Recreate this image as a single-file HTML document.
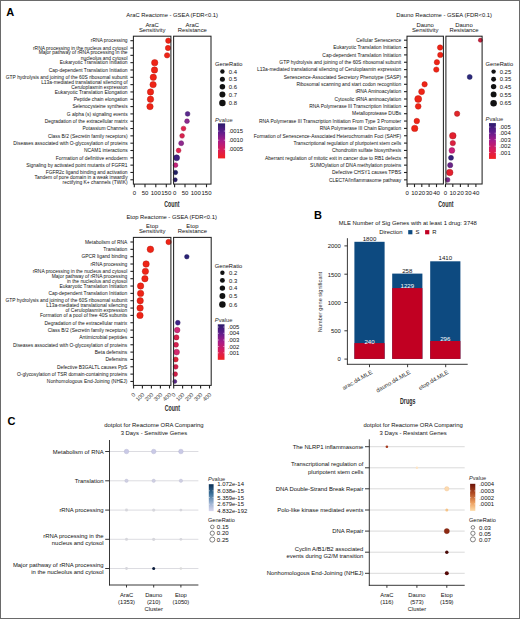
<!DOCTYPE html>
<html><head><meta charset="utf-8"><title>Figure</title>
<style>
html,body{margin:0;padding:0;background:#fff;}
body{width:520px;height:619px;overflow:hidden;font-family:"Liberation Sans",sans-serif;}
svg{display:block;}
text{font-family:"Liberation Sans",sans-serif;}
</style></head><body>
<svg width="520" height="619" viewBox="0 0 520 619" fill="#111" font-family="&quot;Liberation Sans&quot;, sans-serif">
<rect x="0.00" y="0.00" width="520.00" height="619.00" fill="#ffffff"/>
<text x="6.20" y="15.70" font-size="11" font-weight="bold" fill="#000">A</text>
<text x="313.90" y="219.30" font-size="11" font-weight="bold" fill="#000">B</text>
<text x="7.60" y="425.20" font-size="11" font-weight="bold" fill="#000">C</text>
<text x="172.20" y="17.31" font-size="5.85" text-anchor="middle">AraC Reactome - GSEA (FDR&lt;0.1)</text>
<text x="152.15" y="26.52" font-size="5.9" text-anchor="middle">AraC</text>
<text x="152.15" y="31.92" font-size="5.9" text-anchor="middle">Sensitivity</text>
<text x="192.30" y="26.52" font-size="5.9" text-anchor="middle">AraC</text>
<text x="192.30" y="31.92" font-size="5.9" text-anchor="middle">Resistance</text>
<text x="127.60" y="42.47" font-size="4.92" text-anchor="end">rRNA processing</text>
<line x1="130.40" y1="40.70" x2="133.40" y2="40.70" stroke="#222" stroke-width="1.1"/>
<text x="127.60" y="49.79" font-size="4.92" text-anchor="end">rRNA processing in the nucleus and cytosol</text>
<line x1="130.40" y1="48.02" x2="133.40" y2="48.02" stroke="#222" stroke-width="1.1"/>
<text x="127.60" y="54.46" font-size="4.92" text-anchor="end">Major pathway of rRNA processing in the</text>
<text x="127.60" y="59.76" font-size="4.92" text-anchor="end">nucleolus and cytosol</text>
<line x1="130.40" y1="55.34" x2="133.40" y2="55.34" stroke="#222" stroke-width="1.1"/>
<text x="127.60" y="64.43" font-size="4.92" text-anchor="end">Eukaryotic Translation Initiation</text>
<line x1="130.40" y1="62.66" x2="133.40" y2="62.66" stroke="#222" stroke-width="1.1"/>
<text x="127.60" y="71.75" font-size="4.92" text-anchor="end">Cap-dependent Translation Initiation</text>
<line x1="130.40" y1="69.98" x2="133.40" y2="69.98" stroke="#222" stroke-width="1.1"/>
<text x="127.60" y="79.07" font-size="4.92" text-anchor="end">GTP hydrolysis and joining of the 60S ribosomal subunit</text>
<line x1="130.40" y1="77.30" x2="133.40" y2="77.30" stroke="#222" stroke-width="1.1"/>
<text x="127.60" y="83.74" font-size="4.92" text-anchor="end">L13a-mediated translational silencing of</text>
<text x="127.60" y="89.04" font-size="4.92" text-anchor="end">Ceruloplasmin expression</text>
<line x1="130.40" y1="84.62" x2="133.40" y2="84.62" stroke="#222" stroke-width="1.1"/>
<text x="127.60" y="93.71" font-size="4.92" text-anchor="end">Eukaryotic Translation Elongation</text>
<line x1="130.40" y1="91.94" x2="133.40" y2="91.94" stroke="#222" stroke-width="1.1"/>
<text x="127.60" y="101.03" font-size="4.92" text-anchor="end">Peptide chain elongation</text>
<line x1="130.40" y1="99.26" x2="133.40" y2="99.26" stroke="#222" stroke-width="1.1"/>
<text x="127.60" y="108.35" font-size="4.92" text-anchor="end">Selenocysteine synthesis</text>
<line x1="130.40" y1="106.58" x2="133.40" y2="106.58" stroke="#222" stroke-width="1.1"/>
<text x="127.60" y="115.67" font-size="4.92" text-anchor="end">G alpha (s) signaling events</text>
<line x1="130.40" y1="113.90" x2="133.40" y2="113.90" stroke="#222" stroke-width="1.1"/>
<text x="127.60" y="122.99" font-size="4.92" text-anchor="end">Degradation of the extracellular matrix</text>
<line x1="130.40" y1="121.22" x2="133.40" y2="121.22" stroke="#222" stroke-width="1.1"/>
<text x="127.60" y="130.31" font-size="4.92" text-anchor="end">Potassium Channels</text>
<line x1="130.40" y1="128.54" x2="133.40" y2="128.54" stroke="#222" stroke-width="1.1"/>
<text x="127.60" y="137.63" font-size="4.92" text-anchor="end">Class B/2 (Secretin family receptors)</text>
<line x1="130.40" y1="135.86" x2="133.40" y2="135.86" stroke="#222" stroke-width="1.1"/>
<text x="127.60" y="144.95" font-size="4.92" text-anchor="end">Diseases associated with O-glycosylation of proteins</text>
<line x1="130.40" y1="143.18" x2="133.40" y2="143.18" stroke="#222" stroke-width="1.1"/>
<text x="127.60" y="152.27" font-size="4.92" text-anchor="end">NCAM1 interactions</text>
<line x1="130.40" y1="150.50" x2="133.40" y2="150.50" stroke="#222" stroke-width="1.1"/>
<text x="127.60" y="159.59" font-size="4.92" text-anchor="end">Formation of definitive endoderm</text>
<line x1="130.40" y1="157.82" x2="133.40" y2="157.82" stroke="#222" stroke-width="1.1"/>
<text x="127.60" y="166.91" font-size="4.92" text-anchor="end">Signaling by activated point mutants of FGFR1</text>
<line x1="130.40" y1="165.14" x2="133.40" y2="165.14" stroke="#222" stroke-width="1.1"/>
<text x="127.60" y="174.23" font-size="4.92" text-anchor="end">FGFR2c ligand binding and activation</text>
<line x1="130.40" y1="172.46" x2="133.40" y2="172.46" stroke="#222" stroke-width="1.1"/>
<text x="127.60" y="178.90" font-size="4.92" text-anchor="end">Tandem of pore domain in a weak inwardly</text>
<text x="127.60" y="184.20" font-size="4.92" text-anchor="end">rectifying K+ channels (TWIK)</text>
<line x1="130.40" y1="179.78" x2="133.40" y2="179.78" stroke="#222" stroke-width="1.1"/>
<g>
<circle cx="168.30" cy="40.70" r="2.70" fill="#ef2416" stroke="#b81810" stroke-width="0.45"/>
<circle cx="168.00" cy="48.02" r="2.70" fill="#ef2416" stroke="#b81810" stroke-width="0.45"/>
<circle cx="167.10" cy="55.34" r="2.70" fill="#ef2416" stroke="#b81810" stroke-width="0.45"/>
<circle cx="154.70" cy="62.66" r="3.20" fill="#ef2416" stroke="#b81810" stroke-width="0.45"/>
<circle cx="154.50" cy="69.98" r="3.20" fill="#ef2416" stroke="#b81810" stroke-width="0.45"/>
<circle cx="153.30" cy="77.30" r="3.20" fill="#ef2416" stroke="#b81810" stroke-width="0.45"/>
<circle cx="153.10" cy="84.62" r="3.20" fill="#ef2416" stroke="#b81810" stroke-width="0.45"/>
<circle cx="150.50" cy="91.94" r="3.20" fill="#ef2416" stroke="#b81810" stroke-width="0.45"/>
<circle cx="150.50" cy="99.26" r="3.20" fill="#ef2416" stroke="#b81810" stroke-width="0.45"/>
<circle cx="150.00" cy="106.58" r="3.20" fill="#ef2416" stroke="#b81810" stroke-width="0.45"/>
<circle cx="187.60" cy="113.90" r="2.40" fill="#5b2a8e" stroke="#411e66" stroke-width="0.45"/>
<circle cx="187.00" cy="121.22" r="2.40" fill="#8c2a8e" stroke="#641e66" stroke-width="0.45"/>
<circle cx="183.50" cy="128.54" r="2.40" fill="#e0244e" stroke="#a11938" stroke-width="0.45"/>
<circle cx="182.10" cy="135.86" r="2.40" fill="#d8224f" stroke="#9b1838" stroke-width="0.45"/>
<circle cx="181.20" cy="143.18" r="2.50" fill="#902a8e" stroke="#671e66" stroke-width="0.45"/>
<circle cx="178.60" cy="150.50" r="2.40" fill="#e02450" stroke="#a11939" stroke-width="0.45"/>
<circle cx="176.60" cy="157.82" r="3.00" fill="#3e2080" stroke="#2c175c" stroke-width="0.45"/>
<circle cx="175.50" cy="165.14" r="2.40" fill="#c8227a" stroke="#901857" stroke-width="0.45"/>
<circle cx="175.50" cy="172.46" r="2.20" fill="#222064" stroke="#181748" stroke-width="0.45"/>
<circle cx="175.20" cy="179.78" r="2.10" fill="#2a1e6a" stroke="#1e154c" stroke-width="0.45"/>
</g>
<rect x="133.40" y="36.20" width="37.50" height="147.90" fill="none" stroke="#222" stroke-width="1.05"/>
<rect x="173.60" y="36.20" width="37.40" height="147.90" fill="none" stroke="#222" stroke-width="1.05"/>
<line x1="134.30" y1="184.10" x2="134.30" y2="187.20" stroke="#222" stroke-width="1.1"/>
<text x="134.30" y="195.06" font-size="6.0" text-anchor="middle">0</text>
<line x1="145.00" y1="184.10" x2="145.00" y2="187.20" stroke="#222" stroke-width="1.1"/>
<text x="145.00" y="195.06" font-size="6.0" text-anchor="middle">50</text>
<line x1="155.80" y1="184.10" x2="155.80" y2="187.20" stroke="#222" stroke-width="1.1"/>
<text x="155.80" y="195.06" font-size="6.0" text-anchor="middle">100</text>
<line x1="166.30" y1="184.10" x2="166.30" y2="187.20" stroke="#222" stroke-width="1.1"/>
<text x="166.30" y="195.06" font-size="6.0" text-anchor="middle">150</text>
<line x1="174.60" y1="184.10" x2="174.60" y2="187.20" stroke="#222" stroke-width="1.1"/>
<text x="174.60" y="195.06" font-size="6.0" text-anchor="middle">0</text>
<line x1="185.00" y1="184.10" x2="185.00" y2="187.20" stroke="#222" stroke-width="1.1"/>
<text x="185.00" y="195.06" font-size="6.0" text-anchor="middle">50</text>
<line x1="195.80" y1="184.10" x2="195.80" y2="187.20" stroke="#222" stroke-width="1.1"/>
<text x="195.80" y="195.06" font-size="6.0" text-anchor="middle">100</text>
<line x1="206.50" y1="184.10" x2="206.50" y2="187.20" stroke="#222" stroke-width="1.1"/>
<text x="206.50" y="195.06" font-size="6.0" text-anchor="middle">150</text>
<text transform="translate(171.90,206.82) scale(0.63,1)" x="0" y="0" font-size="8.4" text-anchor="middle" font-weight="bold" fill="#2a2a2a">Count</text>
<text x="215.00" y="66.47" font-size="5.75">GeneRatio</text>
<circle cx="222.40" cy="71.50" r="2.20" fill="#111"/>
<text x="228.80" y="73.62" font-size="5.9">0.4</text>
<circle cx="222.40" cy="79.20" r="2.50" fill="#111"/>
<text x="228.80" y="81.32" font-size="5.9">0.5</text>
<circle cx="222.40" cy="86.70" r="2.75" fill="#111"/>
<text x="228.80" y="88.82" font-size="5.9">0.6</text>
<circle cx="222.40" cy="94.60" r="3.00" fill="#111"/>
<text x="228.80" y="96.72" font-size="5.9">0.7</text>
<circle cx="222.40" cy="103.10" r="3.25" fill="#111"/>
<text x="228.80" y="105.22" font-size="5.9">0.8</text>
<text x="215.00" y="121.57" font-size="5.75" fill="#333333"><tspan font-style="italic">P</tspan>value</text>
<defs><linearGradient id="pvA" x1="0" y1="0" x2="0" y2="1"><stop offset="0" stop-color="#2c1c6c"/><stop offset="0.25" stop-color="#5e1d8c"/><stop offset="0.5" stop-color="#a81c88"/><stop offset="0.75" stop-color="#d81c5a"/><stop offset="1" stop-color="#f2221f"/></linearGradient></defs>
<rect x="218.00" y="123.40" width="7.10" height="35.00" fill="url(#pvA)"/>
<line x1="218.00" y1="131.10" x2="219.30" y2="131.10" stroke="#fff" stroke-width="0.5"/>
<line x1="223.80" y1="131.10" x2="225.10" y2="131.10" stroke="#fff" stroke-width="0.5"/>
<text x="228.40" y="133.22" font-size="5.9">.0015</text>
<line x1="218.00" y1="140.20" x2="219.30" y2="140.20" stroke="#fff" stroke-width="0.5"/>
<line x1="223.80" y1="140.20" x2="225.10" y2="140.20" stroke="#fff" stroke-width="0.5"/>
<text x="228.40" y="142.32" font-size="5.9">.0010</text>
<line x1="218.00" y1="149.20" x2="219.30" y2="149.20" stroke="#fff" stroke-width="0.5"/>
<line x1="223.80" y1="149.20" x2="225.10" y2="149.20" stroke="#fff" stroke-width="0.5"/>
<text x="228.40" y="151.32" font-size="5.9">.0005</text>
<text x="444.20" y="17.31" font-size="5.85" text-anchor="middle">Dauno Reactome - GSEA (FDR&lt;0.1)</text>
<text x="425.20" y="26.52" font-size="5.9" text-anchor="middle">Dauno</text>
<text x="425.20" y="31.92" font-size="5.9" text-anchor="middle">Sensitivity</text>
<text x="464.00" y="26.52" font-size="5.9" text-anchor="middle">Dauno</text>
<text x="464.00" y="31.92" font-size="5.9" text-anchor="middle">Resistance</text>
<text x="401.20" y="41.97" font-size="4.92" text-anchor="end">Cellular Senescence</text>
<line x1="404.00" y1="40.20" x2="407.00" y2="40.20" stroke="#222" stroke-width="1.1"/>
<text x="401.20" y="49.32" font-size="4.92" text-anchor="end">Eukaryotic Translation Initiation</text>
<line x1="404.00" y1="47.55" x2="407.00" y2="47.55" stroke="#222" stroke-width="1.1"/>
<text x="401.20" y="56.67" font-size="4.92" text-anchor="end">Cap-dependent Translation Initiation</text>
<line x1="404.00" y1="54.90" x2="407.00" y2="54.90" stroke="#222" stroke-width="1.1"/>
<text x="401.20" y="64.02" font-size="4.92" text-anchor="end">GTP hydrolysis and joining of the 60S ribosomal subunit</text>
<line x1="404.00" y1="62.25" x2="407.00" y2="62.25" stroke="#222" stroke-width="1.1"/>
<text x="401.20" y="71.37" font-size="4.92" text-anchor="end">L13a-mediated translational silencing of Ceruloplasmin expression</text>
<line x1="404.00" y1="69.60" x2="407.00" y2="69.60" stroke="#222" stroke-width="1.1"/>
<text x="401.20" y="78.72" font-size="4.92" text-anchor="end">Senescence-Associated Secretory Phenotype (SASP)</text>
<line x1="404.00" y1="76.95" x2="407.00" y2="76.95" stroke="#222" stroke-width="1.1"/>
<text x="401.20" y="86.07" font-size="4.92" text-anchor="end">Ribosomal scanning and start codon recognition</text>
<line x1="404.00" y1="84.30" x2="407.00" y2="84.30" stroke="#222" stroke-width="1.1"/>
<text x="401.20" y="93.42" font-size="4.92" text-anchor="end">tRNA Aminoacylation</text>
<line x1="404.00" y1="91.65" x2="407.00" y2="91.65" stroke="#222" stroke-width="1.1"/>
<text x="401.20" y="100.77" font-size="4.92" text-anchor="end">Cytosolic tRNA aminoacylation</text>
<line x1="404.00" y1="99.00" x2="407.00" y2="99.00" stroke="#222" stroke-width="1.1"/>
<text x="401.20" y="108.12" font-size="4.92" text-anchor="end">RNA Polymerase III Transcription Initiation</text>
<line x1="404.00" y1="106.35" x2="407.00" y2="106.35" stroke="#222" stroke-width="1.1"/>
<text x="401.20" y="115.47" font-size="4.92" text-anchor="end">Metalloprotease DUBs</text>
<line x1="404.00" y1="113.70" x2="407.00" y2="113.70" stroke="#222" stroke-width="1.1"/>
<text x="401.20" y="122.82" font-size="4.92" text-anchor="end">RNA Polymerase III Transcription Initiation From Type 3 Promoter</text>
<line x1="404.00" y1="121.05" x2="407.00" y2="121.05" stroke="#222" stroke-width="1.1"/>
<text x="401.20" y="130.17" font-size="4.92" text-anchor="end">RNA Polymerase III Chain Elongation</text>
<line x1="404.00" y1="128.40" x2="407.00" y2="128.40" stroke="#222" stroke-width="1.1"/>
<text x="401.20" y="137.52" font-size="4.92" text-anchor="end">Formation of Senescence-Associated Heterochromatin Foci (SAHF)</text>
<line x1="404.00" y1="135.75" x2="407.00" y2="135.75" stroke="#222" stroke-width="1.1"/>
<text x="401.20" y="144.87" font-size="4.92" text-anchor="end">Transcriptional regulation of pluripotent stem cells</text>
<line x1="404.00" y1="143.10" x2="407.00" y2="143.10" stroke="#222" stroke-width="1.1"/>
<text x="401.20" y="152.22" font-size="4.92" text-anchor="end">Chondroitin sulfate biosynthesis</text>
<line x1="404.00" y1="150.45" x2="407.00" y2="150.45" stroke="#222" stroke-width="1.1"/>
<text x="401.20" y="159.57" font-size="4.92" text-anchor="end">Aberrant regulation of mitotic exit in cancer due to RB1 defects</text>
<line x1="404.00" y1="157.80" x2="407.00" y2="157.80" stroke="#222" stroke-width="1.1"/>
<text x="401.20" y="166.92" font-size="4.92" text-anchor="end">SUMOylation of DNA methylation proteins</text>
<line x1="404.00" y1="165.15" x2="407.00" y2="165.15" stroke="#222" stroke-width="1.1"/>
<text x="401.20" y="174.27" font-size="4.92" text-anchor="end">Defective CHSY1 causes TPBS</text>
<line x1="404.00" y1="172.50" x2="407.00" y2="172.50" stroke="#222" stroke-width="1.1"/>
<text x="401.20" y="181.62" font-size="4.92" text-anchor="end">CLEC7A/Inflammasome pathway</text>
<line x1="404.00" y1="179.85" x2="407.00" y2="179.85" stroke="#222" stroke-width="1.1"/>
<g>
<circle cx="480.40" cy="40.20" r="2.10" fill="#c8203c" stroke="#90172b" stroke-width="0.45"/>
<circle cx="440.10" cy="47.55" r="2.70" fill="#ef2416" stroke="#b81810" stroke-width="0.45"/>
<circle cx="440.30" cy="54.90" r="2.70" fill="#ef2416" stroke="#b81810" stroke-width="0.45"/>
<circle cx="436.90" cy="62.25" r="2.70" fill="#ef2416" stroke="#b81810" stroke-width="0.45"/>
<circle cx="436.30" cy="69.60" r="2.70" fill="#ef2416" stroke="#b81810" stroke-width="0.45"/>
<circle cx="469.70" cy="76.95" r="2.50" fill="#2c2a7c" stroke="#1f1e59" stroke-width="0.45"/>
<circle cx="424.60" cy="84.30" r="2.70" fill="#ef2416" stroke="#b81810" stroke-width="0.45"/>
<circle cx="421.60" cy="91.65" r="3.00" fill="#ef2416" stroke="#b81810" stroke-width="0.45"/>
<circle cx="418.20" cy="99.00" r="3.50" fill="#ef2416" stroke="#b81810" stroke-width="0.45"/>
<circle cx="418.20" cy="106.35" r="2.90" fill="#ef2416" stroke="#b81810" stroke-width="0.45"/>
<circle cx="457.10" cy="113.70" r="2.70" fill="#e2262a" stroke="#a21b1e" stroke-width="0.45"/>
<circle cx="416.80" cy="121.05" r="2.80" fill="#ef2416" stroke="#b81810" stroke-width="0.45"/>
<circle cx="414.70" cy="128.40" r="3.20" fill="#ef2416" stroke="#b81810" stroke-width="0.45"/>
<circle cx="452.80" cy="135.75" r="3.30" fill="#e2202e" stroke="#a21721" stroke-width="0.45"/>
<circle cx="452.80" cy="143.10" r="2.70" fill="#dc2040" stroke="#9e172e" stroke-width="0.45"/>
<circle cx="451.90" cy="150.45" r="2.90" fill="#c8207a" stroke="#901757" stroke-width="0.45"/>
<circle cx="451.00" cy="157.80" r="2.50" fill="#35207a" stroke="#261757" stroke-width="0.45"/>
<circle cx="450.20" cy="165.15" r="2.60" fill="#6a2588" stroke="#4c1a61" stroke-width="0.45"/>
<circle cx="449.70" cy="172.50" r="3.30" fill="#e3202e" stroke="#a31721" stroke-width="0.45"/>
<circle cx="447.60" cy="179.85" r="2.40" fill="#7b2b88" stroke="#581e61" stroke-width="0.45"/>
</g>
<rect x="407.00" y="36.20" width="36.40" height="147.80" fill="none" stroke="#222" stroke-width="1.05"/>
<rect x="445.90" y="36.20" width="36.20" height="147.80" fill="none" stroke="#222" stroke-width="1.05"/>
<line x1="407.20" y1="184.00" x2="407.20" y2="187.10" stroke="#222" stroke-width="1.1"/>
<text x="407.20" y="194.96" font-size="6.0" text-anchor="middle">0</text>
<line x1="414.50" y1="184.00" x2="414.50" y2="187.10" stroke="#222" stroke-width="1.1"/>
<text x="414.50" y="194.96" font-size="6.0" text-anchor="middle">10</text>
<line x1="421.80" y1="184.00" x2="421.80" y2="187.10" stroke="#222" stroke-width="1.1"/>
<text x="421.80" y="194.96" font-size="6.0" text-anchor="middle">20</text>
<line x1="429.10" y1="184.00" x2="429.10" y2="187.10" stroke="#222" stroke-width="1.1"/>
<text x="429.10" y="194.96" font-size="6.0" text-anchor="middle">30</text>
<line x1="436.50" y1="184.00" x2="436.50" y2="187.10" stroke="#222" stroke-width="1.1"/>
<text x="436.50" y="194.96" font-size="6.0" text-anchor="middle">40</text>
<line x1="445.50" y1="184.00" x2="445.50" y2="187.10" stroke="#222" stroke-width="1.1"/>
<text x="445.50" y="194.96" font-size="6.0" text-anchor="middle">0</text>
<line x1="452.80" y1="184.00" x2="452.80" y2="187.10" stroke="#222" stroke-width="1.1"/>
<text x="452.80" y="194.96" font-size="6.0" text-anchor="middle">10</text>
<line x1="460.40" y1="184.00" x2="460.40" y2="187.10" stroke="#222" stroke-width="1.1"/>
<text x="460.40" y="194.96" font-size="6.0" text-anchor="middle">20</text>
<line x1="468.20" y1="184.00" x2="468.20" y2="187.10" stroke="#222" stroke-width="1.1"/>
<text x="468.20" y="194.96" font-size="6.0" text-anchor="middle">30</text>
<line x1="475.90" y1="184.00" x2="475.90" y2="187.10" stroke="#222" stroke-width="1.1"/>
<text x="475.90" y="194.96" font-size="6.0" text-anchor="middle">40</text>
<text transform="translate(445.80,206.72) scale(0.63,1)" x="0" y="0" font-size="8.4" text-anchor="middle" font-weight="bold" fill="#2a2a2a">Count</text>
<text x="485.60" y="66.37" font-size="5.75">GeneRatio</text>
<circle cx="493.60" cy="71.60" r="2.20" fill="#111"/>
<text x="499.70" y="73.72" font-size="5.9">0.25</text>
<circle cx="493.60" cy="79.20" r="2.45" fill="#111"/>
<text x="499.70" y="81.32" font-size="5.9">0.35</text>
<circle cx="493.60" cy="86.60" r="2.70" fill="#111"/>
<text x="499.70" y="88.72" font-size="5.9">0.45</text>
<circle cx="493.60" cy="94.40" r="2.95" fill="#111"/>
<text x="499.70" y="96.52" font-size="5.9">0.55</text>
<circle cx="493.60" cy="103.30" r="3.25" fill="#111"/>
<text x="499.70" y="105.42" font-size="5.9">0.65</text>
<text x="485.60" y="121.47" font-size="5.75" fill="#333333"><tspan font-style="italic">P</tspan>value</text>
<defs><linearGradient id="pvD" x1="0" y1="0" x2="0" y2="1"><stop offset="0" stop-color="#2c1c6c"/><stop offset="0.25" stop-color="#5e1d8c"/><stop offset="0.5" stop-color="#a81c88"/><stop offset="0.75" stop-color="#d81c5a"/><stop offset="1" stop-color="#f2221f"/></linearGradient></defs>
<rect x="489.00" y="123.10" width="6.90" height="35.80" fill="url(#pvD)"/>
<line x1="489.00" y1="127.00" x2="490.30" y2="127.00" stroke="#fff" stroke-width="0.5"/>
<line x1="494.60" y1="127.00" x2="495.90" y2="127.00" stroke="#fff" stroke-width="0.5"/>
<text x="499.20" y="129.12" font-size="5.9">.005</text>
<line x1="489.00" y1="133.20" x2="490.30" y2="133.20" stroke="#fff" stroke-width="0.5"/>
<line x1="494.60" y1="133.20" x2="495.90" y2="133.20" stroke="#fff" stroke-width="0.5"/>
<text x="499.20" y="135.32" font-size="5.9">.004</text>
<line x1="489.00" y1="139.60" x2="490.30" y2="139.60" stroke="#fff" stroke-width="0.5"/>
<line x1="494.60" y1="139.60" x2="495.90" y2="139.60" stroke="#fff" stroke-width="0.5"/>
<text x="499.20" y="141.72" font-size="5.9">.003</text>
<line x1="489.00" y1="146.20" x2="490.30" y2="146.20" stroke="#fff" stroke-width="0.5"/>
<line x1="494.60" y1="146.20" x2="495.90" y2="146.20" stroke="#fff" stroke-width="0.5"/>
<text x="499.20" y="148.32" font-size="5.9">.002</text>
<line x1="489.00" y1="152.50" x2="490.30" y2="152.50" stroke="#fff" stroke-width="0.5"/>
<line x1="494.60" y1="152.50" x2="495.90" y2="152.50" stroke="#fff" stroke-width="0.5"/>
<text x="499.20" y="154.62" font-size="5.9">.001</text>
<text x="171.70" y="218.71" font-size="5.85" text-anchor="middle">Etop Reactome - GSEA (FDR&lt;0.1)</text>
<text x="152.15" y="227.92" font-size="5.9" text-anchor="middle">Etop</text>
<text x="152.15" y="233.32" font-size="5.9" text-anchor="middle">Sensitivity</text>
<text x="192.40" y="227.92" font-size="5.9" text-anchor="middle">Etop</text>
<text x="192.40" y="233.32" font-size="5.9" text-anchor="middle">Resistance</text>
<text x="127.30" y="243.77" font-size="4.92" text-anchor="end">Metabolism of RNA</text>
<line x1="130.40" y1="242.00" x2="133.40" y2="242.00" stroke="#222" stroke-width="1.1"/>
<text x="127.30" y="251.11" font-size="4.92" text-anchor="end">Translation</text>
<line x1="130.40" y1="249.34" x2="133.40" y2="249.34" stroke="#222" stroke-width="1.1"/>
<text x="127.30" y="258.45" font-size="4.92" text-anchor="end">GPCR ligand binding</text>
<line x1="130.40" y1="256.68" x2="133.40" y2="256.68" stroke="#222" stroke-width="1.1"/>
<text x="127.30" y="265.79" font-size="4.92" text-anchor="end">rRNA processing</text>
<line x1="130.40" y1="264.02" x2="133.40" y2="264.02" stroke="#222" stroke-width="1.1"/>
<text x="127.30" y="273.13" font-size="4.92" text-anchor="end">rRNA processing in the nucleus and cytosol</text>
<line x1="130.40" y1="271.36" x2="133.40" y2="271.36" stroke="#222" stroke-width="1.1"/>
<text x="127.30" y="277.82" font-size="4.92" text-anchor="end">Major pathway of rRNA processing</text>
<text x="127.30" y="283.12" font-size="4.92" text-anchor="end">in the nucleolus and cytosol</text>
<line x1="130.40" y1="278.70" x2="133.40" y2="278.70" stroke="#222" stroke-width="1.1"/>
<text x="127.30" y="287.81" font-size="4.92" text-anchor="end">Eukaryotic Translation Initiation</text>
<line x1="130.40" y1="286.04" x2="133.40" y2="286.04" stroke="#222" stroke-width="1.1"/>
<text x="127.30" y="295.15" font-size="4.92" text-anchor="end">Cap-dependent Translation Initiation</text>
<line x1="130.40" y1="293.38" x2="133.40" y2="293.38" stroke="#222" stroke-width="1.1"/>
<text x="127.30" y="302.49" font-size="4.92" text-anchor="end">GTP hydrolysis and joining of the 60S ribosomal subunit</text>
<line x1="130.40" y1="300.72" x2="133.40" y2="300.72" stroke="#222" stroke-width="1.1"/>
<text x="127.30" y="307.18" font-size="4.92" text-anchor="end">L13a-mediated translational silencing</text>
<text x="127.30" y="312.48" font-size="4.92" text-anchor="end">of Ceruloplasmin expression</text>
<line x1="130.40" y1="308.06" x2="133.40" y2="308.06" stroke="#222" stroke-width="1.1"/>
<text x="127.30" y="317.17" font-size="4.92" text-anchor="end">Formation of a pool of free 40S subunits</text>
<line x1="130.40" y1="315.40" x2="133.40" y2="315.40" stroke="#222" stroke-width="1.1"/>
<text x="127.30" y="324.51" font-size="4.92" text-anchor="end">Degradation of the extracellular matrix</text>
<line x1="130.40" y1="322.74" x2="133.40" y2="322.74" stroke="#222" stroke-width="1.1"/>
<text x="127.30" y="331.85" font-size="4.92" text-anchor="end">Class B/2 (Secretin family receptors)</text>
<line x1="130.40" y1="330.08" x2="133.40" y2="330.08" stroke="#222" stroke-width="1.1"/>
<text x="127.30" y="339.19" font-size="4.92" text-anchor="end">Antimicrobial peptides</text>
<line x1="130.40" y1="337.42" x2="133.40" y2="337.42" stroke="#222" stroke-width="1.1"/>
<text x="127.30" y="346.53" font-size="4.92" text-anchor="end">Diseases associated with O-glycosylation of proteins</text>
<line x1="130.40" y1="344.76" x2="133.40" y2="344.76" stroke="#222" stroke-width="1.1"/>
<text x="127.30" y="353.87" font-size="4.92" text-anchor="end">Beta defensins</text>
<line x1="130.40" y1="352.10" x2="133.40" y2="352.10" stroke="#222" stroke-width="1.1"/>
<text x="127.30" y="361.21" font-size="4.92" text-anchor="end">Defensins</text>
<line x1="130.40" y1="359.44" x2="133.40" y2="359.44" stroke="#222" stroke-width="1.1"/>
<text x="127.30" y="368.55" font-size="4.92" text-anchor="end">Defective B3GALTL causes PpS</text>
<line x1="130.40" y1="366.78" x2="133.40" y2="366.78" stroke="#222" stroke-width="1.1"/>
<text x="127.30" y="375.89" font-size="4.92" text-anchor="end">O-glycosylation of TSR domain-containing proteins</text>
<line x1="130.40" y1="374.12" x2="133.40" y2="374.12" stroke="#222" stroke-width="1.1"/>
<text x="127.30" y="383.23" font-size="4.92" text-anchor="end">Nonhomologous End-Joining (NHEJ)</text>
<line x1="130.40" y1="381.46" x2="133.40" y2="381.46" stroke="#222" stroke-width="1.1"/>
<g>
<circle cx="168.60" cy="242.00" r="2.70" fill="#ef2416" stroke="#b81810" stroke-width="0.45"/>
<circle cx="150.40" cy="249.34" r="3.30" fill="#ef2416" stroke="#b81810" stroke-width="0.45"/>
<circle cx="186.80" cy="256.68" r="2.30" fill="#2a2276" stroke="#1e1854" stroke-width="0.45"/>
<circle cx="146.10" cy="264.02" r="3.20" fill="#ef2416" stroke="#b81810" stroke-width="0.45"/>
<circle cx="145.40" cy="271.36" r="3.20" fill="#ef2416" stroke="#b81810" stroke-width="0.45"/>
<circle cx="144.90" cy="278.70" r="3.20" fill="#ef2416" stroke="#b81810" stroke-width="0.45"/>
<circle cx="140.60" cy="286.04" r="3.20" fill="#ef2416" stroke="#b81810" stroke-width="0.45"/>
<circle cx="140.60" cy="293.38" r="3.20" fill="#ef2416" stroke="#b81810" stroke-width="0.45"/>
<circle cx="140.20" cy="300.72" r="3.20" fill="#ef2416" stroke="#b81810" stroke-width="0.45"/>
<circle cx="140.10" cy="308.06" r="3.20" fill="#ef2416" stroke="#b81810" stroke-width="0.45"/>
<circle cx="140.00" cy="315.40" r="3.20" fill="#ef2416" stroke="#b81810" stroke-width="0.45"/>
<circle cx="177.80" cy="322.74" r="2.40" fill="#3e2388" stroke="#2c1961" stroke-width="0.45"/>
<circle cx="177.20" cy="330.08" r="2.80" fill="#d02a78" stroke="#951e56" stroke-width="0.45"/>
<circle cx="176.40" cy="337.42" r="2.60" fill="#d8204a" stroke="#9b1735" stroke-width="0.45"/>
<circle cx="176.00" cy="344.76" r="2.50" fill="#d82050" stroke="#9b1739" stroke-width="0.45"/>
<circle cx="176.60" cy="352.10" r="2.90" fill="#d2286e" stroke="#971c4f" stroke-width="0.45"/>
<circle cx="175.70" cy="359.44" r="2.50" fill="#dc2038" stroke="#9e1728" stroke-width="0.45"/>
<circle cx="175.70" cy="366.78" r="2.40" fill="#d41e48" stroke="#981533" stroke-width="0.45"/>
<circle cx="175.20" cy="374.12" r="2.40" fill="#d41e48" stroke="#981533" stroke-width="0.45"/>
<circle cx="174.80" cy="381.46" r="2.00" fill="#5b2a8a" stroke="#411e63" stroke-width="0.45"/>
</g>
<rect x="133.40" y="237.40" width="37.50" height="148.00" fill="none" stroke="#222" stroke-width="1.05"/>
<rect x="173.60" y="237.40" width="37.60" height="148.00" fill="none" stroke="#222" stroke-width="1.05"/>
<line x1="133.60" y1="385.40" x2="133.60" y2="388.50" stroke="#222" stroke-width="1.1"/>
<text transform="translate(135.80,395.00) rotate(-45)" x="0" y="0" font-size="5.6" text-anchor="end" fill="#333333">0</text>
<line x1="142.40" y1="385.40" x2="142.40" y2="388.50" stroke="#222" stroke-width="1.1"/>
<text transform="translate(144.60,395.00) rotate(-45)" x="0" y="0" font-size="5.6" text-anchor="end" fill="#333333">100</text>
<line x1="151.40" y1="385.40" x2="151.40" y2="388.50" stroke="#222" stroke-width="1.1"/>
<text transform="translate(153.60,395.00) rotate(-45)" x="0" y="0" font-size="5.6" text-anchor="end" fill="#333333">200</text>
<line x1="160.40" y1="385.40" x2="160.40" y2="388.50" stroke="#222" stroke-width="1.1"/>
<text transform="translate(162.60,395.00) rotate(-45)" x="0" y="0" font-size="5.6" text-anchor="end" fill="#333333">300</text>
<line x1="169.50" y1="385.40" x2="169.50" y2="388.50" stroke="#222" stroke-width="1.1"/>
<text transform="translate(171.70,395.00) rotate(-45)" x="0" y="0" font-size="5.6" text-anchor="end" fill="#333333">400</text>
<line x1="173.70" y1="385.40" x2="173.70" y2="388.50" stroke="#222" stroke-width="1.1"/>
<text transform="translate(175.90,395.00) rotate(-45)" x="0" y="0" font-size="5.6" text-anchor="end" fill="#333333">0</text>
<line x1="182.60" y1="385.40" x2="182.60" y2="388.50" stroke="#222" stroke-width="1.1"/>
<text transform="translate(184.80,395.00) rotate(-45)" x="0" y="0" font-size="5.6" text-anchor="end" fill="#333333">100</text>
<line x1="191.60" y1="385.40" x2="191.60" y2="388.50" stroke="#222" stroke-width="1.1"/>
<text transform="translate(193.80,395.00) rotate(-45)" x="0" y="0" font-size="5.6" text-anchor="end" fill="#333333">200</text>
<line x1="200.60" y1="385.40" x2="200.60" y2="388.50" stroke="#222" stroke-width="1.1"/>
<text transform="translate(202.80,395.00) rotate(-45)" x="0" y="0" font-size="5.6" text-anchor="end" fill="#333333">300</text>
<line x1="209.50" y1="385.40" x2="209.50" y2="388.50" stroke="#222" stroke-width="1.1"/>
<text transform="translate(211.70,395.00) rotate(-45)" x="0" y="0" font-size="5.6" text-anchor="end" fill="#333333">400</text>
<text transform="translate(172.30,411.02) scale(0.63,1)" x="0" y="0" font-size="8.4" text-anchor="middle" font-weight="bold" fill="#2a2a2a">Count</text>
<text x="214.80" y="268.07" font-size="5.75">GeneRatio</text>
<circle cx="222.40" cy="272.80" r="2.20" fill="#111"/>
<text x="229.00" y="274.92" font-size="5.9">0.2</text>
<circle cx="222.40" cy="280.40" r="2.45" fill="#111"/>
<text x="229.00" y="282.52" font-size="5.9">0.3</text>
<circle cx="222.40" cy="288.10" r="2.70" fill="#111"/>
<text x="229.00" y="290.22" font-size="5.9">0.4</text>
<circle cx="222.40" cy="296.00" r="2.95" fill="#111"/>
<text x="229.00" y="298.12" font-size="5.9">0.5</text>
<circle cx="222.40" cy="304.40" r="3.25" fill="#111"/>
<text x="229.00" y="306.52" font-size="5.9">0.6</text>
<text x="214.80" y="321.87" font-size="5.75" fill="#333333"><tspan font-style="italic">P</tspan>value</text>
<defs><linearGradient id="pvE" x1="0" y1="0" x2="0" y2="1"><stop offset="0" stop-color="#2c1c6c"/><stop offset="0.25" stop-color="#5e1d8c"/><stop offset="0.5" stop-color="#a81c88"/><stop offset="0.75" stop-color="#d81c5a"/><stop offset="1" stop-color="#f2221f"/></linearGradient></defs>
<rect x="217.80" y="324.30" width="6.70" height="35.50" fill="url(#pvE)"/>
<line x1="217.80" y1="327.00" x2="219.10" y2="327.00" stroke="#fff" stroke-width="0.5"/>
<line x1="223.20" y1="327.00" x2="224.50" y2="327.00" stroke="#fff" stroke-width="0.5"/>
<text x="227.80" y="329.12" font-size="5.9">.005</text>
<line x1="217.80" y1="333.30" x2="219.10" y2="333.30" stroke="#fff" stroke-width="0.5"/>
<line x1="223.20" y1="333.30" x2="224.50" y2="333.30" stroke="#fff" stroke-width="0.5"/>
<text x="227.80" y="335.42" font-size="5.9">.004</text>
<line x1="217.80" y1="340.00" x2="219.10" y2="340.00" stroke="#fff" stroke-width="0.5"/>
<line x1="223.20" y1="340.00" x2="224.50" y2="340.00" stroke="#fff" stroke-width="0.5"/>
<text x="227.80" y="342.12" font-size="5.9">.003</text>
<line x1="217.80" y1="346.50" x2="219.10" y2="346.50" stroke="#fff" stroke-width="0.5"/>
<line x1="223.20" y1="346.50" x2="224.50" y2="346.50" stroke="#fff" stroke-width="0.5"/>
<text x="227.80" y="348.62" font-size="5.9">.002</text>
<line x1="217.80" y1="352.80" x2="219.10" y2="352.80" stroke="#fff" stroke-width="0.5"/>
<line x1="223.20" y1="352.80" x2="224.50" y2="352.80" stroke="#fff" stroke-width="0.5"/>
<text x="227.80" y="354.92" font-size="5.9">.001</text>
<text x="407.80" y="224.52" font-size="5.9" text-anchor="middle">MLE Number of Sig Genes with at least 1 drug: 3748</text>
<text x="379.30" y="234.42" font-size="5.9">Direction</text>
<rect x="408.20" y="230.10" width="4.20" height="4.20" fill="#0d4a80"/>
<text x="415.50" y="234.42" font-size="5.9">S</text>
<rect x="425.10" y="230.10" width="4.20" height="4.20" fill="#c10022"/>
<text x="432.30" y="234.42" font-size="5.9">R</text>
<rect x="354.40" y="241.80" width="30.20" height="117.10" fill="#0d4a80"/>
<rect x="354.40" y="343.10" width="30.20" height="15.80" fill="#c10022"/>
<text x="369.50" y="241.20" font-size="6.1" text-anchor="middle">1800</text>
<text x="369.50" y="343.80" font-size="6.1" text-anchor="middle" fill="#ffffff">240</text>
<rect x="392.20" y="273.60" width="30.20" height="85.30" fill="#0d4a80"/>
<rect x="392.20" y="288.10" width="30.20" height="70.80" fill="#c10022"/>
<text x="407.30" y="272.50" font-size="6.1" text-anchor="middle">258</text>
<text x="407.30" y="288.40" font-size="6.1" text-anchor="middle" fill="#ffffff">1229</text>
<rect x="430.20" y="261.30" width="30.20" height="97.60" fill="#0d4a80"/>
<rect x="430.20" y="341.00" width="30.20" height="17.90" fill="#c10022"/>
<text x="445.30" y="260.20" font-size="6.1" text-anchor="middle">1410</text>
<text x="445.30" y="340.80" font-size="6.1" text-anchor="middle" fill="#ffffff">296</text>
<line x1="347.40" y1="238.20" x2="347.40" y2="364.60" stroke="#222" stroke-width="0.9"/>
<line x1="346.95" y1="364.30" x2="467.70" y2="364.30" stroke="#222" stroke-width="0.9"/>
<line x1="344.40" y1="359.10" x2="347.40" y2="359.10" stroke="#222" stroke-width="0.9"/>
<text x="340.80" y="361.42" font-size="5.9" text-anchor="end">0</text>
<line x1="344.40" y1="330.80" x2="347.40" y2="330.80" stroke="#222" stroke-width="0.9"/>
<text x="340.80" y="333.12" font-size="5.9" text-anchor="end">500</text>
<line x1="344.40" y1="302.50" x2="347.40" y2="302.50" stroke="#222" stroke-width="0.9"/>
<text x="340.80" y="304.82" font-size="5.9" text-anchor="end">1000</text>
<line x1="344.40" y1="274.20" x2="347.40" y2="274.20" stroke="#222" stroke-width="0.9"/>
<text x="340.80" y="276.52" font-size="5.9" text-anchor="end">1500</text>
<line x1="344.40" y1="245.90" x2="347.40" y2="245.90" stroke="#222" stroke-width="0.9"/>
<text x="340.80" y="248.22" font-size="5.9" text-anchor="end">2000</text>
<line x1="369.50" y1="364.30" x2="369.50" y2="367.20" stroke="#222" stroke-width="0.9"/>
<text transform="translate(370.70,369.60) rotate(-30)" x="0" y="4.3" font-size="5.95" text-anchor="end" fill="#333333">arac.d4.MLE</text>
<line x1="407.60" y1="364.30" x2="407.60" y2="367.20" stroke="#222" stroke-width="0.9"/>
<text transform="translate(408.80,369.60) rotate(-30)" x="0" y="4.3" font-size="5.95" text-anchor="end" fill="#333333">dauno.d4.MLE</text>
<line x1="445.70" y1="364.30" x2="445.70" y2="367.20" stroke="#222" stroke-width="0.9"/>
<text transform="translate(446.90,369.60) rotate(-30)" x="0" y="4.3" font-size="5.95" text-anchor="end" fill="#333333">etop.d4.MLE</text>
<text transform="translate(321.6,302.0) rotate(-90)" x="0" y="0" font-size="5.6" text-anchor="middle" fill="#333333">Number gene significant</text>
<text transform="translate(407.70,403.52) scale(0.63,1)" x="0" y="0" font-size="8.4" text-anchor="middle" font-weight="bold" fill="#2a2a2a">Drugs</text>
<text x="153.90" y="427.42" font-size="5.9" text-anchor="middle">dotplot for Reactome ORA Comparing</text>
<text x="153.90" y="435.12" font-size="5.9" text-anchor="middle">3 Days - Sensitive Genes</text>
<line x1="109.50" y1="451.50" x2="198.40" y2="451.50" stroke="#d8d8de" stroke-width="0.9"/>
<line x1="109.50" y1="480.80" x2="198.40" y2="480.80" stroke="#d8d8de" stroke-width="0.9"/>
<line x1="109.50" y1="510.10" x2="198.40" y2="510.10" stroke="#d8d8de" stroke-width="0.9"/>
<line x1="109.50" y1="539.30" x2="198.40" y2="539.30" stroke="#d8d8de" stroke-width="0.9"/>
<line x1="109.50" y1="568.50" x2="198.40" y2="568.50" stroke="#d8d8de" stroke-width="0.9"/>
<text x="103.60" y="453.62" font-size="5.9" text-anchor="end">Metabolism of RNA</text>
<line x1="105.20" y1="451.50" x2="109.50" y2="451.50" stroke="#222" stroke-width="0.9"/>
<text x="103.60" y="482.92" font-size="5.9" text-anchor="end">Translation</text>
<line x1="105.20" y1="480.80" x2="109.50" y2="480.80" stroke="#222" stroke-width="0.9"/>
<text x="103.60" y="512.22" font-size="5.9" text-anchor="end">rRNA processing</text>
<line x1="105.20" y1="510.10" x2="109.50" y2="510.10" stroke="#222" stroke-width="0.9"/>
<text x="103.60" y="537.77" font-size="5.9" text-anchor="end">rRNA processing in the</text>
<text x="103.60" y="545.07" font-size="5.9" text-anchor="end">nucleus and cytosol</text>
<line x1="105.20" y1="539.30" x2="109.50" y2="539.30" stroke="#222" stroke-width="0.9"/>
<text x="103.60" y="566.97" font-size="5.9" text-anchor="end">Major pathway of rRNA processing</text>
<text x="103.60" y="574.27" font-size="5.9" text-anchor="end">in the nucleolus and cytosol</text>
<line x1="105.20" y1="568.50" x2="109.50" y2="568.50" stroke="#222" stroke-width="0.9"/>
<circle cx="126.50" cy="451.50" r="2.30" fill="#c9c9e6" stroke="#aaaacb" stroke-width="0.35"/>
<circle cx="153.70" cy="451.50" r="2.30" fill="#c9c9e6" stroke="#aaaacb" stroke-width="0.35"/>
<circle cx="180.90" cy="451.50" r="2.30" fill="#c9c9e6" stroke="#aaaacb" stroke-width="0.35"/>
<circle cx="126.50" cy="480.80" r="1.70" fill="#cfcfe2" stroke="#b8b8d0" stroke-width="0.35"/>
<circle cx="153.70" cy="480.80" r="1.70" fill="#cfcfe2" stroke="#b8b8d0" stroke-width="0.35"/>
<circle cx="180.90" cy="480.80" r="1.70" fill="#cfcfe2" stroke="#b8b8d0" stroke-width="0.35"/>
<circle cx="126.50" cy="510.10" r="1.50" fill="#d6d6dc"/>
<circle cx="153.70" cy="510.10" r="1.60" fill="#d6d6dc"/>
<circle cx="180.90" cy="510.10" r="1.40" fill="#d6d6dc"/>
<circle cx="126.50" cy="539.30" r="1.50" fill="#d6d6dc"/>
<circle cx="153.70" cy="539.30" r="1.60" fill="#d6d6dc"/>
<circle cx="180.90" cy="539.30" r="1.40" fill="#d6d6dc"/>
<circle cx="126.50" cy="568.50" r="1.40" fill="#d6d6dc"/>
<circle cx="153.70" cy="568.50" r="1.50" fill="#0b1c3c"/>
<circle cx="180.90" cy="568.50" r="1.30" fill="#dadada"/>
<line x1="109.50" y1="440.00" x2="109.50" y2="585.45" stroke="#222" stroke-width="0.9"/>
<line x1="109.05" y1="585.00" x2="198.40" y2="585.00" stroke="#222" stroke-width="0.9"/>
<line x1="126.50" y1="585.00" x2="126.50" y2="587.50" stroke="#222" stroke-width="0.9"/>
<text x="126.50" y="596.59" font-size="5.8" text-anchor="middle">AraC</text>
<text x="126.50" y="603.89" font-size="5.8" text-anchor="middle">(1353)</text>
<line x1="153.70" y1="585.00" x2="153.70" y2="587.50" stroke="#222" stroke-width="0.9"/>
<text x="153.70" y="596.59" font-size="5.8" text-anchor="middle">Dauno</text>
<text x="153.70" y="603.89" font-size="5.8" text-anchor="middle">(210)</text>
<line x1="180.90" y1="585.00" x2="180.90" y2="587.50" stroke="#222" stroke-width="0.9"/>
<text x="180.90" y="596.59" font-size="5.8" text-anchor="middle">Etop</text>
<text x="180.90" y="603.89" font-size="5.8" text-anchor="middle">(1050)</text>
<text x="153.70" y="611.09" font-size="5.8" text-anchor="middle">Cluster</text>
<text x="208.0" y="481.02" font-size="5.6" fill="#333333"><tspan font-style="italic">P</tspan>value</text>
<defs><linearGradient id="pvC1" x1="0" y1="0" x2="0" y2="1"><stop offset="0" stop-color="#0b2f55"/><stop offset="0.35" stop-color="#3a6f98"/><stop offset="0.7" stop-color="#9bb2d2"/><stop offset="1" stop-color="#d8d6ee"/></linearGradient></defs>
<rect x="208.80" y="484.20" width="4.80" height="26.90" fill="url(#pvC1)"/>
<text x="217.20" y="486.34" font-size="5.95">1.072e-14</text>
<line x1="208.80" y1="490.80" x2="209.90" y2="490.80" stroke="#fff" stroke-width="0.5"/>
<line x1="212.50" y1="490.80" x2="213.60" y2="490.80" stroke="#fff" stroke-width="0.5"/>
<text x="217.20" y="492.94" font-size="5.95">8.038e-15</text>
<line x1="208.80" y1="497.50" x2="209.90" y2="497.50" stroke="#fff" stroke-width="0.5"/>
<line x1="212.50" y1="497.50" x2="213.60" y2="497.50" stroke="#fff" stroke-width="0.5"/>
<text x="217.20" y="499.64" font-size="5.95">5.359e-15</text>
<line x1="208.80" y1="504.20" x2="209.90" y2="504.20" stroke="#fff" stroke-width="0.5"/>
<line x1="212.50" y1="504.20" x2="213.60" y2="504.20" stroke="#fff" stroke-width="0.5"/>
<text x="217.20" y="506.34" font-size="5.95">2.679e-15</text>
<text x="217.20" y="513.04" font-size="5.95">4.832e-192</text>
<text x="208.00" y="521.82" font-size="5.6">GeneRatio</text>
<circle cx="212.30" cy="526.90" r="1.80" fill="none" stroke="#333" stroke-width="0.6"/>
<text x="216.80" y="529.10" font-size="6.1">0.15</text>
<circle cx="212.30" cy="533.20" r="2.15" fill="none" stroke="#333" stroke-width="0.6"/>
<text x="216.80" y="535.40" font-size="6.1">0.20</text>
<circle cx="212.30" cy="539.60" r="2.50" fill="none" stroke="#333" stroke-width="0.6"/>
<text x="216.80" y="541.80" font-size="6.1">0.25</text>
<text x="413.10" y="427.42" font-size="5.9" text-anchor="middle">dotplot for Reactome ORA Comparing</text>
<text x="413.10" y="435.12" font-size="5.9" text-anchor="middle">3 Days - Resistant Genes</text>
<line x1="369.30" y1="446.70" x2="464.70" y2="446.70" stroke="#d6d6d6" stroke-width="0.9"/>
<line x1="369.30" y1="467.80" x2="464.70" y2="467.80" stroke="#d6d6d6" stroke-width="0.9"/>
<line x1="369.30" y1="488.80" x2="464.70" y2="488.80" stroke="#d6d6d6" stroke-width="0.9"/>
<line x1="369.30" y1="510.00" x2="464.70" y2="510.00" stroke="#d6d6d6" stroke-width="0.9"/>
<line x1="369.30" y1="531.10" x2="464.70" y2="531.10" stroke="#d6d6d6" stroke-width="0.9"/>
<line x1="369.30" y1="552.20" x2="464.70" y2="552.20" stroke="#d6d6d6" stroke-width="0.9"/>
<line x1="369.30" y1="573.30" x2="464.70" y2="573.30" stroke="#d6d6d6" stroke-width="0.9"/>
<text x="363.40" y="448.82" font-size="5.9" text-anchor="end">The NLRP1 inflammasome</text>
<line x1="365.00" y1="446.70" x2="369.30" y2="446.70" stroke="#222" stroke-width="0.9"/>
<text x="363.40" y="466.27" font-size="5.9" text-anchor="end">Transcriptional regulation of</text>
<text x="363.40" y="473.57" font-size="5.9" text-anchor="end">pluripotent stem cells</text>
<line x1="365.00" y1="467.80" x2="369.30" y2="467.80" stroke="#222" stroke-width="0.9"/>
<text x="363.40" y="490.92" font-size="5.9" text-anchor="end">DNA Double-Strand Break Repair</text>
<line x1="365.00" y1="488.80" x2="369.30" y2="488.80" stroke="#222" stroke-width="0.9"/>
<text x="363.40" y="512.12" font-size="5.9" text-anchor="end">Polo-like kinase mediated events</text>
<line x1="365.00" y1="510.00" x2="369.30" y2="510.00" stroke="#222" stroke-width="0.9"/>
<text x="363.40" y="533.22" font-size="5.9" text-anchor="end">DNA Repair</text>
<line x1="365.00" y1="531.10" x2="369.30" y2="531.10" stroke="#222" stroke-width="0.9"/>
<text x="363.40" y="550.67" font-size="5.9" text-anchor="end">Cyclin A/B1/B2 associated</text>
<text x="363.40" y="557.97" font-size="5.9" text-anchor="end">events during G2/M transition</text>
<line x1="365.00" y1="552.20" x2="369.30" y2="552.20" stroke="#222" stroke-width="0.9"/>
<text x="363.40" y="575.42" font-size="5.9" text-anchor="end">Nonhomologous End-Joining (NHEJ)</text>
<line x1="365.00" y1="573.30" x2="369.30" y2="573.30" stroke="#222" stroke-width="0.9"/>
<circle cx="386.90" cy="446.70" r="1.30" fill="#a63a1e"/>
<circle cx="416.90" cy="467.80" r="1.20" fill="#fde4c4"/>
<circle cx="446.80" cy="488.80" r="2.20" fill="#fcdab0" stroke="#f0c08a" stroke-width="0.35"/>
<circle cx="446.80" cy="510.00" r="1.50" fill="#f6c387"/>
<circle cx="446.80" cy="531.10" r="2.60" fill="#8e2a12" stroke="#701a08" stroke-width="0.35"/>
<circle cx="446.80" cy="552.20" r="1.70" fill="#4a0b08"/>
<circle cx="446.80" cy="573.30" r="2.00" fill="#560a08"/>
<line x1="369.30" y1="439.30" x2="369.30" y2="585.75" stroke="#222" stroke-width="0.9"/>
<line x1="368.85" y1="585.30" x2="464.70" y2="585.30" stroke="#222" stroke-width="0.9"/>
<line x1="386.90" y1="585.30" x2="386.90" y2="587.80" stroke="#222" stroke-width="0.9"/>
<text x="386.90" y="596.89" font-size="5.8" text-anchor="middle">AraC</text>
<text x="386.90" y="604.19" font-size="5.8" text-anchor="middle">(116)</text>
<line x1="416.90" y1="585.30" x2="416.90" y2="587.80" stroke="#222" stroke-width="0.9"/>
<text x="416.90" y="596.89" font-size="5.8" text-anchor="middle">Dauno</text>
<text x="416.90" y="604.19" font-size="5.8" text-anchor="middle">(573)</text>
<line x1="446.80" y1="585.30" x2="446.80" y2="587.80" stroke="#222" stroke-width="0.9"/>
<text x="446.80" y="596.89" font-size="5.8" text-anchor="middle">Etop</text>
<text x="446.80" y="604.19" font-size="5.8" text-anchor="middle">(159)</text>
<text x="416.90" y="611.39" font-size="5.8" text-anchor="middle">Cluster</text>
<text x="469.0" y="479.72" font-size="5.6" fill="#333333"><tspan font-style="italic">P</tspan>value</text>
<defs><linearGradient id="pvC2" x1="0" y1="0" x2="0" y2="1"><stop offset="0" stop-color="#6a1208"/><stop offset="0.35" stop-color="#b04a22"/><stop offset="0.7" stop-color="#eda060"/><stop offset="1" stop-color="#fddcaa"/></linearGradient></defs>
<rect x="470.10" y="483.80" width="5.20" height="27.10" fill="url(#pvC2)"/>
<text x="479.20" y="486.24" font-size="5.95">.0004</text>
<line x1="470.10" y1="490.90" x2="471.20" y2="490.90" stroke="#fff" stroke-width="0.5"/>
<line x1="474.20" y1="490.90" x2="475.30" y2="490.90" stroke="#fff" stroke-width="0.5"/>
<text x="479.20" y="493.04" font-size="5.95">.0003</text>
<line x1="470.10" y1="497.60" x2="471.20" y2="497.60" stroke="#fff" stroke-width="0.5"/>
<line x1="474.20" y1="497.60" x2="475.30" y2="497.60" stroke="#fff" stroke-width="0.5"/>
<text x="479.20" y="499.74" font-size="5.95">.0002</text>
<line x1="470.10" y1="503.90" x2="471.20" y2="503.90" stroke="#fff" stroke-width="0.5"/>
<line x1="474.20" y1="503.90" x2="475.30" y2="503.90" stroke="#fff" stroke-width="0.5"/>
<text x="479.20" y="506.04" font-size="5.95">.0001</text>
<text x="469.00" y="522.02" font-size="5.6">GeneRatio</text>
<circle cx="472.90" cy="527.40" r="1.80" fill="none" stroke="#333" stroke-width="0.6"/>
<text x="479.10" y="529.60" font-size="6.1">0.03</text>
<circle cx="472.90" cy="533.30" r="2.15" fill="none" stroke="#333" stroke-width="0.6"/>
<text x="479.10" y="535.50" font-size="6.1">0.05</text>
<circle cx="472.90" cy="539.40" r="2.50" fill="none" stroke="#333" stroke-width="0.6"/>
<text x="479.10" y="541.60" font-size="6.1">0.07</text>
<rect x="0.50" y="0.50" width="519.00" height="618.00" fill="none" stroke="#6a6a6a" stroke-width="1.0"/>
</svg>
</body></html>
